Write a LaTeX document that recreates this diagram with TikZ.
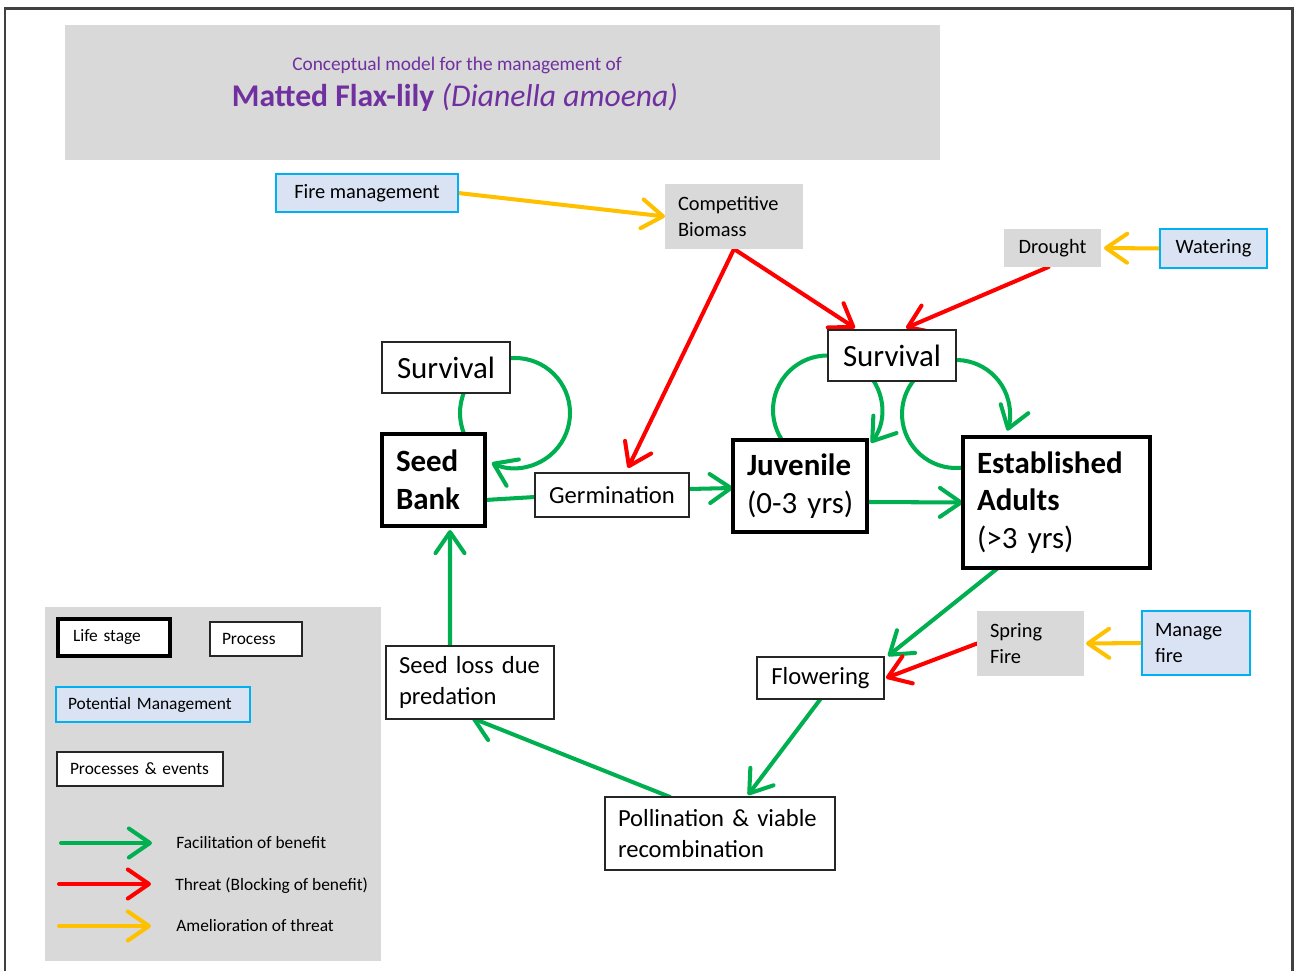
\documentclass[tikz,border=0pt]{standalone}
\usepackage{fontspec}
\setmainfont{Carlito}
\usetikzlibrary{arrows.meta,calc}
\definecolor{ggreen}{HTML}{00B050}
\definecolor{rred}{HTML}{FF0000}
\definecolor{yamber}{HTML}{FFC000}
\definecolor{boxgray}{HTML}{D9D9D9}
\definecolor{mgmtfill}{HTML}{DAE3F3}
\definecolor{mgmtline}{HTML}{00B0F0}
\definecolor{titlepurple}{HTML}{7030A0}
\pgfdeclarelayer{back}
\pgfsetlayers{back,main}
\tikzset{
  wh/.style 2 args={minimum width=#1*0.02cm, minimum height=#2*0.02cm},
  ltext/.style={text width=#1*0.02cm, align=left},
  box/.style={rectangle, inner sep=0pt, outer sep=0pt},
  big/.style={font=\fontsize{17.6}{21.5}\selectfont},
  mid/.style={font=\fontsize{14}{17.6}\selectfont},
  small/.style={font=\fontsize{11.6}{14.7}\selectfont},
  tiny/.style={font=\fontsize{9.9}{12}\selectfont},
  stage/.style={box, draw=black, line width=2.6pt, fill=white, big},
  proc/.style={box, draw=black!85, line width=0.8pt, fill=white},
  factor/.style={box, fill=boxgray, small},
  mgmt/.style={box, fill=mgmtfill, draw=mgmtline, line width=0.8pt, small},
  link/.style={line width=2.3pt, line cap=round, -{Straight Barb[length=12pt,width=16.5pt,round]}},
  good/.style={link, draw=ggreen},
  bad/.style={link, draw=rred},
  fix/.style={link, draw=yamber},
}
\begin{document}
\begin{tikzpicture}[x=0.02cm, y=0.02cm]
\useasboundingbox (0,0) rectangle (1294,971);
% page frame
\draw[line width=1.7pt, draw=black!75] (5,0) -- (5,962) -- (1292,962) -- (1292,0);

% title panel
\node[box, fill=boxgray, wh={875}{135}] (titlebox) at (502.5,878.5) {};
\node[font=\fontsize{11}{13}\selectfont, text=titlepurple] (subtitle) at (457,906) {Conceptual model for the management of};
\node[font=\fontsize{18}{22}\selectfont, text=titlepurple] (title) at (455,874) {\textbf{Matted Flax-lily} \textit{(Dianella amoena)}};

% drivers and management
\node[mgmt, wh={182}{38}] (firem) at (367,778) {Fire management};
\node[factor, wh={138}{65}, ltext=112] (compb) at (734,754.5) {Competitive\\Biomass};
\node[factor, wh={97}{38}] (drought) at (1052.5,723) {Drought};
\node[mgmt, wh={107}{39}] (watering) at (1213.5,722.5) {Watering};
\node[factor, wh={107}{65}, ltext=81] (spring) at (1030.5,327.5) {Spring\\Fire};
\node[mgmt, wh={108}{64}, ltext=82] (manage) at (1196,328) {Manage\\fire};

% life stages and processes
\node[proc, big, wh={128}{51}] (survL) at (446,603.5) {Survival};
\node[stage, wh={103}{92}, ltext=75] (seedbank) at (433.5,491) {\textbf{Seed}\\\textbf{Bank}};
\node[proc, mid, wh={154}{44}] (germ) at (612,476) {Germination};
\node[stage, wh={134}{92}, ltext=106] (juv) at (800,485) {\textbf{Juvenile}\\\mbox{(0-3 yrs)}};
\node[proc, big, wh={128}{51}] (survR) at (892,615.5) {Survival};
\node[stage, wh={187}{131}, ltext=159] (adults) at (1056.5,468.5) {\textbf{Established}\\\textbf{Adults}\\\mbox{(>3 yrs)}};
\node[proc, mid, wh={127}{42}] (flower) at (820.5,293) {Flowering};
\node[proc, mid, wh={168}{73}, ltext=142] (seedloss) at (470,288.5) {\mbox{Seed loss due}\\predation};
\node[proc, mid, wh={230}{73}, ltext=204] (pollin) at (720,137.5) {\mbox{Pollination \& viable}\\recombination};

% connectors
\begin{pgfonlayer}{back}
  \draw[fix] (firem.east) -- (compb.west);
  \draw[bad] (compb.south) -- ($(germ.north)+(16,5)$);
  \draw[bad] (compb.south) -- ($(survR.north)+(-37,2)$);
  \draw[bad] ($(drought.south)+(-4,0)$) -- ($(survR.north)+(14,2)$);
  \draw[fix] (watering.west) -- ($(drought.east)+(3,0)$);
  \draw[good, -] ($(seedbank.east)+(0,-20)$) -- ($(germ.west)+(0,-2)$);
  \draw[good] ($(germ.east)+(0,6)$) -- ($(juv.west)+(0,-2)$);
  \draw[good] ($(juv.east)+(0,-16)$) -- (adults.west);
  \draw[good] ($(adults.south)+(-56,2)$) -- ($(flower.north east)+(4,1)$);
  \draw[bad] (spring.west) -- ($(flower.east)+(2,0)$);
  \draw[fix] (manage.west) -- ($(spring.east)+(2,0)$);
  \draw[good] (flower.south) -- ($(pollin.north)+(28,2)$);
  \draw[good] ($(pollin.north)+(-50,0)$) -- ($(seedloss.south)+(2,1)$);
  \draw[good] ($(seedloss.north)+(-20,0)$) -- ($(seedbank.south)+(16.5,-4)$);
  % survival loops
  \coordinate (loopL) at (515,558);
  \coordinate (loopJ) at (827.5,561);
  \coordinate (loopA) at (956,557);
  \draw[good] ($(loopL)+(220:55)$) arc[start angle=220, end angle=-115, radius=55];
  \draw[good] ($(loopJ)+(230:54.5)$) arc[start angle=230, end angle=-37, radius=54.5];
  \draw[good] ($(loopA)+(285:54)$) arc[start angle=285, end angle=-18, radius=54];
\end{pgfonlayer}

% key
\node[box, fill=boxgray, wh={336}{354}] (keybox) at (213,187) {};
\node[box, draw=black, line width=2.6pt, fill=white, tiny, wh={112}{37}, ltext=82] (kstage) at (114,333.5) {Life stage};
\node[proc, tiny, wh={92}{34}, ltext=68] (kproc) at (256,332) {Process};
\node[mgmt, tiny, wh={194}{35}, ltext=170] (kmgmt) at (153,266.5) {Potential Management};
\node[proc, tiny, wh={166}{34}, ltext=140] (kevents) at (140,202) {Processes \& events};
\coordinate (kg1) at (61,128);  \coordinate (kg2) at (152,128);
\coordinate (kr1) at (59,87);   \coordinate (kr2) at (151,87);
\coordinate (ky1) at (59,45);   \coordinate (ky2) at (151,45);
\draw[good] (kg1) -- (kg2);
\draw[bad] (kr1) -- (kr2);
\draw[fix] (ky1) -- (ky2);
\node[tiny, anchor=west, inner sep=0pt] (kgt) at (176,128) {Facilitation of benefit};
\node[tiny, anchor=west, inner sep=0pt] (krt) at (175,85) {Threat (Blocking of benefit)};
\node[tiny, anchor=west, inner sep=0pt] (kyt) at (176,45) {Amelioration of threat};
\end{tikzpicture}
\end{document}
